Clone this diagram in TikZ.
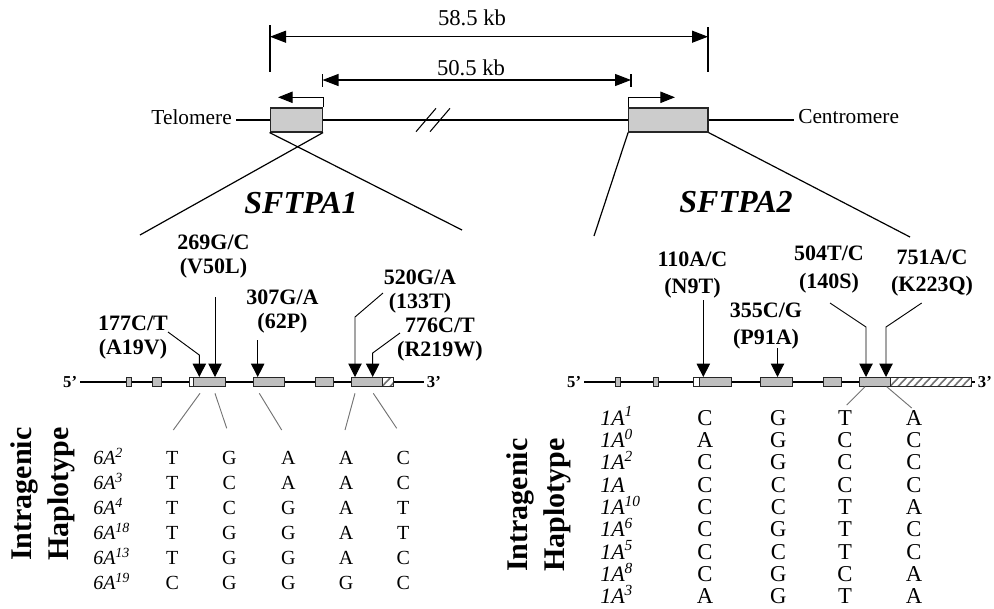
\documentclass[tikz,border=0pt]{standalone}
\usepackage{fontspec}
\setmainfont{Liberation Serif}
\usetikzlibrary{arrows.meta}
\newcommand{\fsz}[2]{\fontsize{#1}{#2}\selectfont}
\newcommand{\exonbox}[2]{\draw[exon] (#1,377) rectangle (#2,386.5);}
\newcommand{\utrbox}[2]{\draw[exon,fill=white] (#1,377) rectangle (#2,386.5);}
\newcommand{\hatchbox}[2]{%
  \fill[white] (#1,377) rectangle (#2,386.5);
  \begin{scope}
    \clip (#1,377) rectangle (#2,386.5);
    \foreach \h in {-8,0,8,...,88} \draw[hatch] ({#1+\h},386.5) -- ++(9,-9.5);
  \end{scope}
  \draw[exon,fill=none] (#1,377) rectangle (#2,386.5);}
\newcommand{\hapL}[8]{%
  \node[hapn] (#1) at (93,#2) {#3};
  \node[bsl] (#1a) at (172.3,#2) {#4};
  \node[bsl] (#1b) at (229.3,#2) {#5};
  \node[bsl] (#1c) at (288.3,#2) {#6};
  \node[bsl] (#1d) at (346,#2) {#7};
  \node[bsl] (#1e) at (403.3,#2) {#8};}
\newcommand{\hapR}[7]{%
  \node[hapnr] (#1) at (600,#2) {#3};
  \node[bsr] (#1a) at (705,#2) {#4};
  \node[bsr] (#1b) at (778.3,#2) {#5};
  \node[bsr] (#1c) at (845,#2) {#6};
  \node[bsr] (#1d) at (914,#2) {#7};}

\begin{document}
\begin{tikzpicture}[x=0.75pt,y=-0.75pt,
  lbl/.style={inner ysep=0pt,inner xsep=3pt,font=\fsz{16pt}{19pt}},
  kb/.style={inner sep=0pt,font=\fsz{17pt}{20pt}},
  gname/.style={inner sep=0pt,font=\fsz{24pt}{28pt}\bfseries\itshape},
  mutl/.style={inner sep=0pt,align=center,font=\fsz{16.5pt}{18pt}\bfseries},
  mutr/.style={inner sep=0pt,align=center,font=\fsz{16.5pt}{20.3pt}\bfseries},
  prime/.style={inner ysep=0pt,inner xsep=2pt,font=\fsz{12.5pt}{15pt}\bfseries},
  htitle/.style={inner sep=0pt,rotate=90,align=center,font=\fsz{22.5pt}{27.7pt}\bfseries},
  hapn/.style={inner sep=0pt,anchor=base west,font=\fsz{15pt}{17pt}\itshape},
  hapnr/.style={inner sep=0pt,anchor=base west,font=\fsz{16.5pt}{18pt}\itshape},
  bsl/.style={inner sep=0pt,anchor=base,font=\fsz{15pt}{17pt}},
  bsr/.style={inner sep=0pt,anchor=base,font=\fsz{17pt}{19pt}},
  cbox/.style={draw=black!85,fill=black!20,line width=0.8pt,minimum height=18pt,inner sep=0pt},
  exon/.style={draw=black!85,fill=black!25,line width=0.6pt},
  hatch/.style={draw=black!55,line width=1.2pt},
  dim/.style={{Triangle[length=12pt,width=9pt]}-{Triangle[length=12pt,width=9pt]},line width=0.8pt},
  tick/.style={line width=0.8pt},
  tss/.style={-{Triangle[length=11pt,width=8.5pt]},line width=0.9pt},
  ar/.style={-{Triangle[length=10pt,width=10pt]},line width=0.7pt},
  fan/.style={line width=0.9pt},
  lnk/.style={draw=black!55,line width=0.7pt},
  chrom/.style={line width=1.2pt},
  dna/.style={line width=1.6pt}
]
\useasboundingbox (0,0) rectangle (994,608);

% chromosome with the two genes
\node[cbox,minimum width=39.4pt] (b1) at (296.3,120) {};
\node[cbox,minimum width=59.5pt] (b2) at (668.3,120) {};
\node[lbl,anchor=east] (tel) at (236,117) {Telomere};
\node[lbl,anchor=west] (cen) at (794,117) {Centromere};
\draw[chrom] (tel.east |- b1.west) -- (b1.west);
\draw[chrom] (b1.east) -- (b2.west);
\draw[chrom] (b2.east) -- (cen.west |- b2.east);
\draw[tick] (416,131.7) -- (436,108.3);
\draw[tick] (430,131.7) -- (450,108.3);
\coordinate (p1) at (278,97.3); \coordinate (p2) at (675,97.3);
\draw[tss] (b1.north east) |- (p1);
\draw[tss] (b2.north west) |- (p2);

\node[kb] (k58) at (472,17.5) {58.5 kb};
\node[kb] (k50) at (471,67.5) {50.5 kb};
\coordinate (d1l) at (270,36.7); \coordinate (d1r) at (708,36.7);
\coordinate (d2l) at (322.5,80); \coordinate (d2r) at (631,80);
\draw[tick] (270,25) -- (270,72); \draw[tick] (708,27) -- (708,72);
\draw[tick] (322.5,74) -- (322.5,87); \draw[tick] (631,74) -- (631,87);
\draw[dim] (d1l) -- (d1r);
\draw[dim] (d2l) -- (d2r);

\coordinate (f1l) at (140,235); \coordinate (f1r) at (462,230);
\coordinate (f2l) at (594,236); \coordinate (f2r) at (910,237);
\draw[fan] (b1.south east) -- (f1l); \draw[fan] (b1.south west) -- (f1r);
\draw[fan] (b2.south west) -- (f2l); \draw[fan] (b2.south east) -- (f2r);
\node[gname] (g1) at (301,203) {SFTPA1};
\node[gname] (g2) at (736,202) {SFTPA2};

% SFTPA1
\node[prime,anchor=east] (l5) at (80,382) {5’};
\node[prime,anchor=west] (l3) at (424,382) {3’};
\draw[dna] (l5.east) -- (l3.west);
\exonbox{126.7}{131.3} \exonbox{152.3}{161.7}
\utrbox{189}{193.3} \exonbox{193.3}{225}
\exonbox{253}{284} \exonbox{315}{333} \exonbox{351}{382}
\hatchbox{382}{393}

\node[mutl] (m177) at (133,337.5) {177C/T\\(A19V)};
\node[mutl] (m269) at (213.5,257) {269G/C\\(V50L)};
\node[mutl] (m307) at (282.5,311.5) {307G/A\\(62P)};
\node[mutl] (m520) at (420,291.5) {520G/A\\(133T)};
\node[mutl] (m776) at (440,340) {776C/T\\(R219W)};
\coordinate (s177) at (168,332); \coordinate (k177) at (199.3,355); \coordinate (t177) at (199.3,377);
\coordinate (s269) at (215,297); \coordinate (t269) at (215,377);
\coordinate (s307) at (257.7,340); \coordinate (t307) at (257.7,377);
\coordinate (s520) at (383,293); \coordinate (k520) at (355,317); \coordinate (t520) at (355,377);
\coordinate (s776) at (400,333); \coordinate (k776) at (372.7,353); \coordinate (t776) at (372.7,377);
\draw[ar] (s177) -- (k177) -- (t177);
\draw[ar] (s269) -- (t269);
\draw[ar] (s307) -- (t307);
\draw[ar] (s520) -- (k520) -- (t520);
\draw[ar] (s776) -- (k776) -- (t776);

\coordinate (u1) at (200,393.3); \coordinate (w1) at (173.3,430);
\coordinate (u2) at (215,393.3); \coordinate (w2) at (226.7,428.3);
\coordinate (u3) at (259.3,393.3); \coordinate (w3) at (281.7,430);
\coordinate (u4) at (355,393.3); \coordinate (w4) at (345,430);
\coordinate (u5) at (373.3,393.3); \coordinate (w5) at (396.7,428.3);
\draw[lnk] (u1) -- (w1); \draw[lnk] (u2) -- (w2); \draw[lnk] (u3) -- (w3);
\draw[lnk] (u4) -- (w4); \draw[lnk] (u5) -- (w5);

\node[htitle] (hl) at (42.5,494) {Intragenic\\Haplotype};
\hapL{L1}{464.5}{6A\textsuperscript{2}}{T}{G}{A}{A}{C}
\hapL{L2}{489.5}{6A\textsuperscript{3}}{T}{C}{A}{A}{C}
\hapL{L3}{514.5}{6A\textsuperscript{4}}{T}{C}{G}{A}{T}
\hapL{L4}{539.5}{6A\textsuperscript{18}}{T}{G}{G}{A}{T}
\hapL{L5}{564.5}{6A\textsuperscript{13}}{T}{G}{G}{A}{C}
\hapL{L6}{589.5}{6A\textsuperscript{19}}{C}{G}{G}{G}{C}

% SFTPA2
\node[prime,anchor=east] (r5) at (584,382) {5’};
\node[prime,anchor=west] (r3) at (975,382) {3’};
\draw[dna] (r5.east) -- (r3.west);
\exonbox{615}{620} \exonbox{653}{658}
\utrbox{693}{699} \exonbox{699}{731}
\exonbox{760}{792} \exonbox{823}{841} \exonbox{859}{890}
\hatchbox{890}{971}

\node[mutr] (m110) at (692.5,275) {110A/C\\(N9T)};
\node[mutr] (m355) at (766,326) {355C/G\\(P91A)};
\node[mutr] (m504) at (829,269.5) {504T/C\\(140S)};
\node[mutr] (m751) at (932,273.5) {751A/C\\(K223Q)};
\coordinate (s110) at (703.3,300); \coordinate (t110) at (703.3,377);
\coordinate (s355) at (777.5,348); \coordinate (t355) at (777.5,377);
\coordinate (s504) at (830,303); \coordinate (k504) at (866,327); \coordinate (t504) at (866,377);
\coordinate (s751) at (921.7,303); \coordinate (k751) at (886,327); \coordinate (t751) at (886,377);
\draw[ar] (s110) -- (t110);
\draw[ar] (s355) -- (t355);
\draw[ar] (s504) -- (k504) -- (t504);
\draw[ar] (s751) -- (k751) -- (t751);

\coordinate (u6) at (865,386.7); \coordinate (w6) at (846.7,405);
\coordinate (u7) at (886.7,386.7); \coordinate (w7) at (911.7,408);
\draw[lnk] (u6) -- (w6); \draw[lnk] (u7) -- (w7);

\node[htitle] (hr) at (539,505) {Intragenic\\Haplotype};
\hapR{R1}{425.3}{1A\textsuperscript{1}}{C}{G}{T}{A}
\hapR{R2}{447.6}{1A\textsuperscript{0}}{A}{G}{C}{C}
\hapR{R3}{469.9}{1A\textsuperscript{2}}{C}{G}{C}{C}
\hapR{R4}{492.2}{1A}{C}{C}{C}{C}
\hapR{R5}{514.5}{1A\textsuperscript{10}}{C}{C}{T}{A}
\hapR{R6}{536.8}{1A\textsuperscript{6}}{C}{G}{T}{C}
\hapR{R7}{559.1}{1A\textsuperscript{5}}{C}{C}{T}{C}
\hapR{R8}{581.4}{1A\textsuperscript{8}}{C}{G}{C}{A}
\hapR{R9}{603.7}{1A\textsuperscript{3}}{A}{G}{T}{A}
\end{tikzpicture}
\end{document}
